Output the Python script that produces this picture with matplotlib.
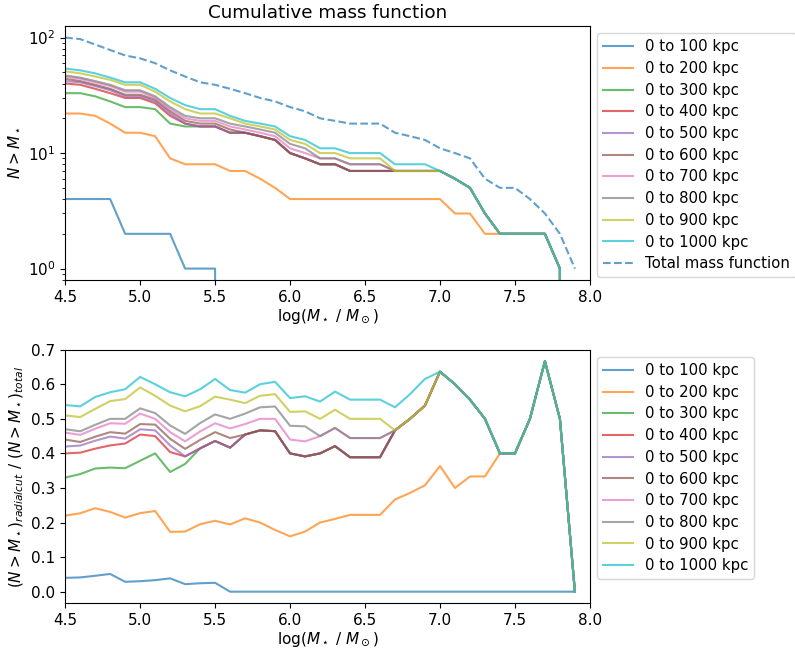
import numpy as np
import matplotlib
matplotlib.use("Agg")
import matplotlib.pyplot as plt

# log stellar-mass bins
log_mass = [4.5, 4.6, 4.7, 4.8, 4.9, 5.0, 5.1, 5.2, 5.3, 5.4,
            5.5, 5.6, 5.7, 5.8, 5.9, 6.0, 6.1, 6.2, 6.3, 6.4,
            6.5, 6.6, 6.7, 6.8, 6.9, 7.0, 7.1, 7.2, 7.3, 7.4,
            7.5, 7.6, 7.7, 7.8, 7.9]

# total cumulative counts N(>M)
n_total = [100, 97, 87, 78, 70, 66, 60, 52, 46, 41,
           39, 36, 33, 30, 28, 25, 23, 20, 19, 18,
           18, 18, 15, 14, 13, 11, 10, 9, 6, 5,
           5, 4, 3, 2, 1]

# cumulative counts inside each radial cut
n_100 = [4, 4, 4, 4, 2, 2, 2, 2, 1, 1,
         1, 0, 0, 0, 0, 0, 0, 0, 0, 0,
         0, 0, 0, 0, 0, 0, 0, 0, 0, 0,
         0, 0, 0, 0, 0]
n_200 = [22, 22, 21, 18, 15, 15, 14, 9, 8, 8,
         8, 7, 7, 6, 5, 4, 4, 4, 4, 4,
         4, 4, 4, 4, 4, 4, 3, 3, 2, 2,
         2, 2, 2, 1, 0]
n_300 = [33, 33, 31, 28, 25, 25, 24, 18, 17, 17,
         17, 15, 15, 14, 13, 10, 9, 8, 8, 7,
         7, 7, 7, 7, 7, 7, 6, 5, 3, 2,
         2, 2, 2, 1, 0]
n_400 = [40, 39, 36, 33, 30, 30, 27, 21, 18, 17,
         17, 15, 15, 14, 13, 10, 9, 8, 8, 7,
         7, 7, 7, 7, 7, 7, 6, 5, 3, 2,
         2, 2, 2, 1, 0]
n_500 = [42, 41, 38, 35, 31, 31, 28, 22, 18, 17,
         17, 15, 15, 14, 13, 10, 9, 8, 8, 7,
         7, 7, 7, 7, 7, 7, 6, 5, 3, 2,
         2, 2, 2, 1, 0]
n_600 = [44, 42, 39, 36, 32, 32, 29, 23, 19, 18,
         18, 16, 15, 14, 13, 10, 9, 8, 8, 7,
         7, 7, 7, 7, 7, 7, 6, 5, 3, 2,
         2, 2, 2, 1, 0]
n_700 = [46, 44, 41, 38, 34, 34, 30, 24, 20, 19,
         19, 17, 16, 15, 14, 11, 10, 9, 9, 8,
         8, 8, 7, 7, 7, 7, 6, 5, 3, 2,
         2, 2, 2, 1, 0]
n_800 = [47, 45, 42, 39, 35, 35, 31, 25, 21, 20,
         20, 18, 17, 16, 15, 12, 11, 9, 9, 8,
         8, 8, 7, 7, 7, 7, 6, 5, 3, 2,
         2, 2, 2, 1, 0]
n_900 = [51, 49, 46, 43, 39, 39, 34, 28, 24, 22,
         22, 20, 18, 17, 16, 13, 12, 10, 10, 9,
         9, 9, 7, 7, 7, 7, 6, 5, 3, 2,
         2, 2, 2, 1, 0]
n_1000 = [54, 52, 49, 45, 41, 41, 36, 30, 26, 24,
          24, 21, 19, 18, 17, 14, 13, 11, 11, 10,
          10, 10, 8, 8, 8, 7, 6, 5, 3, 2,
          2, 2, 2, 1, 0]

radii = [100, 200, 300, 400, 500, 600, 700, 800, 900, 1000]
counts = [n_100, n_200, n_300, n_400, n_500, n_600, n_700, n_800, n_900, n_1000]

plt.rcParams["font.size"] = 11

x = np.array(log_mass)
tot = np.array(n_total, dtype=float)

fig = plt.figure(figsize=(7.95, 6.5), dpi=100)
ax1 = fig.add_axes([0.082, 0.569, 0.660, 0.391])
ax2 = fig.add_axes([0.082, 0.072, 0.660, 0.390])

xlab = r"log($M_\star$ / $M_\odot$)"

# --- top: cumulative mass function ---
for r, n in zip(radii, counts):
    ax1.plot(x, n, alpha=0.7, label=f"0 to {r} kpc")
ax1.plot(x, n_total, "--", color="C0", alpha=0.7, label="Total mass function")
ax1.set_yscale("log")
ax1.set_xlim(4.5, 8.0)
ax1.set_xlabel(xlab, labelpad=2)
ax1.set_ylabel(r"$N > M_\star$")
ax1.set_title("Cumulative mass function")
ax1.legend(loc="upper left", bbox_to_anchor=(1.0, 1.0), fontsize=10.7,
           labelspacing=0.45)

# --- bottom: fraction of total inside each radial cut ---
for r, n in zip(radii, counts):
    ax2.plot(x, np.array(n) / tot, alpha=0.7, label=f"0 to {r} kpc")
ax2.set_xlim(4.5, 8.0)
ax2.set_xlabel(xlab, labelpad=2)
ax2.set_ylabel(r"$(N > M_\star)_{radialcut}\ /\ (N > M_\star)_{total}$")
ax2.legend(loc="upper left", bbox_to_anchor=(1.0, 1.0), fontsize=10.7,
           labelspacing=0.45)

fig.savefig("out.png", dpi=100)
